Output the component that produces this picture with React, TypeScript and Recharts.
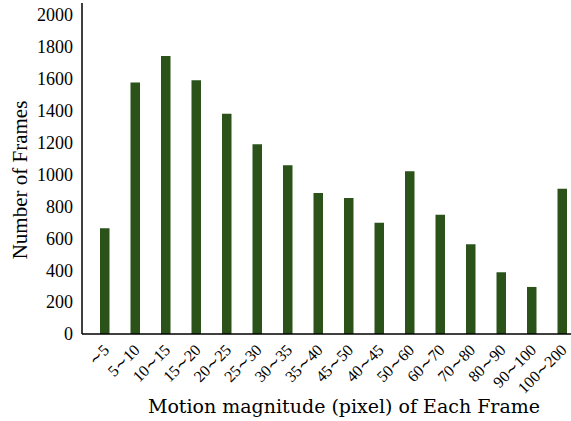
import React from "react";
import { Bar, BarChart, XAxis, YAxis } from "recharts";

const categories = [
  "∼5", "5∼10", "10∼15", "15∼20", "20∼25", "25∼30", "30∼35", "35∼40",
  "45∼50", "40∼45", "50∼60", "60∼70", "70∼80", "80∼90", "90∼100", "100∼200",
];
const frames = [663, 1576, 1743, 1590, 1381, 1189, 1058, 884, 853, 698, 1020, 748, 562, 387, 295, 911];
const yTicks = [0, 200, 400, 600, 800, 1000, 1200, 1400, 1600, 1800, 2000];

const data = categories.map((range, i) => ({ range, frames: frames[i] }));

const FONT = "'Liberation Serif', 'DejaVu Serif', serif";

// labels are right-aligned to the tick, rotated 45°
function RotatedTick(props: any) {
  const { x, y, payload } = props;
  const ax = x + 6;
  const ay = y + 9;
  return (
    <text
      x={ax}
      y={ay}
      transform={`rotate(-45 ${ax} ${ay})`}
      textAnchor="end"
      fontFamily={FONT}
      fontSize={16}
      fill="#000"
    >
      {payload.value}
    </text>
  );
}

export default function App() {
  return (
    <div style={{ position: "absolute", left: 0, top: 0, background: "#fff" }}>
      <BarChart
        width={571}
        height={421}
        data={data}
        margin={{ top: 3, right: -6, left: 0, bottom: 0 }}
        barSize={9.5}
      >
        <XAxis
          dataKey="range"
          height={87}
          interval={0}
          tickLine={false}
          padding={{ left: 7, right: 0 }}
          axisLine={{ stroke: "#000", strokeWidth: 1.5 }}
          tick={<RotatedTick />}
          label={{
            content: () => (
              <text x={344} y={413} textAnchor="middle" fontFamily="'DejaVu Serif', serif" fontSize={19} fill="#000">
                Motion magnitude (pixel) of Each Frame
              </text>
            ),
          }}
        />
        <YAxis
          width={82}
          domain={[0, 2075]}
          ticks={yTicks}
          tickLine={false}
          tickSize={0}
          tickMargin={9}
          axisLine={{ stroke: "#000", strokeWidth: 1.5 }}
          tick={{ fill: "#000", fontSize: 18, fontFamily: FONT }}
          label={{
            content: () => (
              <text
                x={27}
                y={180}
                transform="rotate(-90 27 180)"
                textAnchor="middle"
                fontFamily={FONT}
                fontSize={21}
                fill="#000"
              >
                Number of Frames
              </text>
            ),
          }}
        />
        <Bar dataKey="frames" fill="#2a5219" isAnimationActive={false} />
      </BarChart>
    </div>
  );
}
